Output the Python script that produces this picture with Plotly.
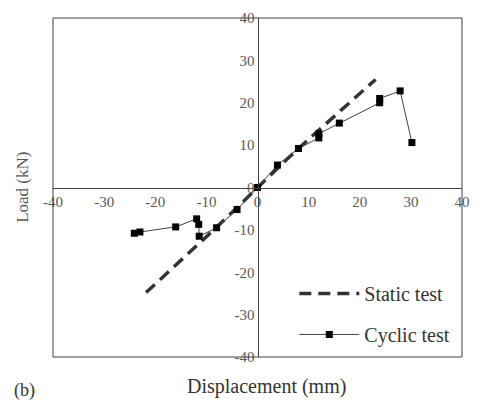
import plotly.graph_objects as go

# Static test (dashed)
static_x = [-21.8, -15.0, -10.0, -5.0, 0.0, 5.0, 10.0, 15.0, 20.0, 23.1]
static_y = [-24.8, -17.3, -11.6, -5.9, 0.0, 5.8, 11.4, 16.8, 22.3, 25.5]

# Cyclic test (markers + line)
cyclic_x = [-24.1, -23.0, -16.0, -11.9, -11.5, -11.4, -8.0, -4.0, 0.0, 3.9, 8.0, 12.0, 12.0, 16.0, 23.9, 23.9, 27.9, 30.2]
cyclic_y = [-10.8, -10.5, -9.3, -7.4, -8.7, -11.5, -9.5, -5.2, 0.0, 5.3, 9.2, 11.7, 12.7, 15.2, 20.0, 21.0, 22.8, 10.6]

tick_vals = [-40, -30, -20, -10, 0, 10, 20, 30, 40]
tick_text = ["-40", "-30", "-20", "-10", "0", "10", "20", "30", "40"]

serif = "Liberation Serif, Times New Roman, serif"
axis_col = "#404040"
text_col = "#595959"

fig = go.Figure()
fig.add_trace(go.Scatter(
    x=static_x, y=static_y, mode="lines", name="Static test", legendgroup="s",
    line=dict(color="#333333", width=3.5, dash="12px,7px"),
))
fig.add_trace(go.Scatter(
    x=cyclic_x, y=cyclic_y, mode="lines+markers", name="Cyclic test", legendgroup="c",
    line=dict(color="#404040", width=1),
    marker=dict(symbol="square", size=7, color="#000000"),
))

fig.update_layout(
    width=480, height=401,
    margin=dict(l=53, r=10, t=15, b=44),
    paper_bgcolor="white", plot_bgcolor="white",
    font=dict(family=serif, color=text_col, size=15),
    xaxis=dict(range=[-40, 40], tickvals=tick_vals, ticktext=tick_text,
               anchor="free", position=0.5, showline=True, linecolor=axis_col,
               linewidth=1, showgrid=False, zeroline=False, ticks="",
               tickfont=dict(family=serif, size=15, color=text_col)),
    yaxis=dict(range=[-40, 40], tickvals=tick_vals, ticktext=tick_text,
               anchor="free", position=0.5, showline=True, linecolor=axis_col,
               linewidth=1, showgrid=False, zeroline=False, ticks="",
               tickfont=dict(family=serif, size=15, color=text_col)),
    legend=dict(x=0.59, y=0.245, xanchor="left", yanchor="top",
                bgcolor="rgba(0,0,0,0)", itemwidth=60, tracegroupgap=12,
                font=dict(family=serif, size=20, color="#333333")),
    shapes=[dict(type="rect", xref="paper", yref="paper", x0=0, x1=1, y0=0, y1=1,
                 line=dict(color=axis_col, width=1))],
    annotations=[
        dict(text="Load (kN)", xref="paper", yref="paper", x=-0.075, y=0.5,
             textangle=-90, showarrow=False, xanchor="center", yanchor="middle",
             font=dict(family=serif, size=17, color=text_col)),
        dict(text="Displacement (mm)", xref="paper", yref="paper", x=0.523, y=-0.088,
             showarrow=False, xanchor="center", yanchor="middle",
             font=dict(family=serif, size=20, color="#333333")),
        dict(text="(b)", xref="paper", yref="paper", x=-0.07, y=-0.1,
             showarrow=False, xanchor="center", yanchor="middle",
             font=dict(family=serif, size=18, color="#333333")),
    ],
)

fig.write_html("out.html")
